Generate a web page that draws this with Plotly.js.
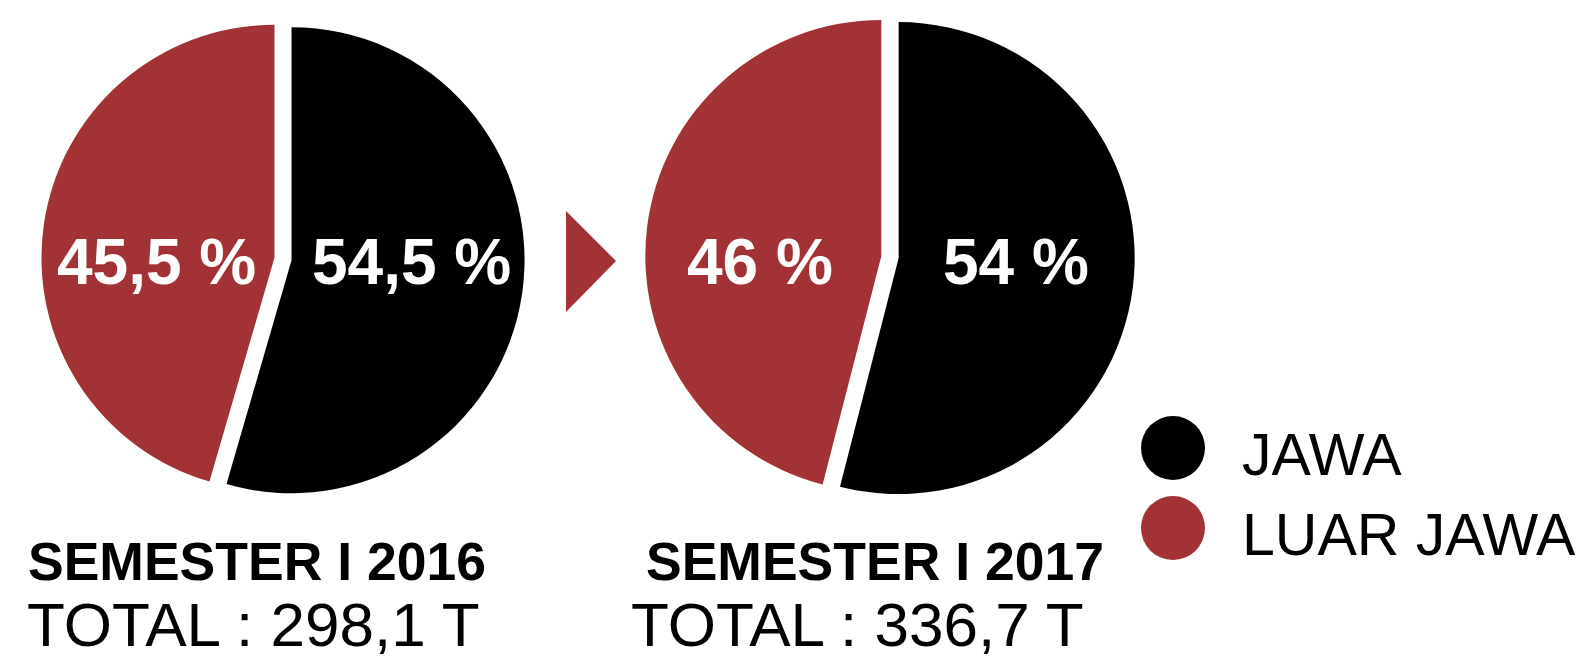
<!DOCTYPE html>
<html>
<head>
<meta charset="utf-8">
<script src="https://cdn.plot.ly/plotly-3.0.1.min.js"></script>
<style>
html,body{margin:0;padding:0;background:#fff;}
#chart{width:1579px;height:660px;}
</style>
</head>
<body>
<div id="chart"></div>
<script>
// ---- data ----
const regions = ['JAWA', 'LUAR JAWA'];
const periods = ['SEMESTER I 2016', 'SEMESTER I 2017'];
const totals = ['298,1', '336,7'];
const jawa = [54.5, 54];
const luarJawa = [45.5, 46];

// ---- styling ----
const W = 1579, H = 660;
const FONT = 'Liberation Sans, Arial, Helvetica, sans-serif';
const colors = ['#000000', '#A33237'];
const pull = 0.037;
const pies = [
  {cx: 283, cy: 259, r: 233, labelDx: [128, -127], titleX: 26, totalX: 26},
  {cx: 890, cy: 257, r: 236, labelDx: [126, -130], titleX: 644, totalX: 630}
];
const px = x => x / W;
const py = y => 1 - y / H;
const fmt = v => String(v).replace('.', ',') + ' %';

const traces = [];
const annotations = [];
pies.forEach((p, i) => {
  const half = p.r * (1 + pull);
  traces.push({
    type: 'pie',
    labels: regions,
    values: [jawa[i], luarJawa[i]],
    sort: false,
    direction: 'clockwise',
    rotation: 0,
    pull: [pull, pull],
    marker: {colors: colors, line: {width: 0}},
    textinfo: 'none',
    hoverinfo: 'none',
    showlegend: false,
    domain: {x: [px(p.cx - half), px(p.cx + half)], y: [py(p.cy + half), py(p.cy - half)]}
  });
  const vals = [jawa[i], luarJawa[i]];
  vals.forEach((v, k) => {
    annotations.push({
      xref: 'paper', yref: 'paper', x: px(p.cx + p.labelDx[k]), y: py(262),
      xanchor: 'center', yanchor: 'middle', showarrow: false,
      text: '<b>' + fmt(v) + '</b>',
      font: {family: FONT, size: 64, color: '#ffffff'}
    });
  });
  annotations.push({
    xref: 'paper', yref: 'paper', x: px(p.titleX), y: py(561),
    xanchor: 'left', yanchor: 'middle', showarrow: false,
    text: '<b>' + periods[i] + '</b>',
    font: {family: FONT, size: 53.5, color: '#000000'}
  });
  annotations.push({
    xref: 'paper', yref: 'paper', x: px(p.totalX), y: 0,
    xanchor: 'left', yanchor: 'bottom', showarrow: false, borderpad: 0,
    text: 'TOTAL : ' + totals[i] + ' T',
    font: {family: FONT, size: 62, color: '#000000'}
  });
});

// legend (manual, large circles)
const shapes = [];
const legY = [448, 528];
regions.forEach((name, k) => {
  shapes.push({
    type: 'circle', xref: 'paper', yref: 'paper',
    x0: px(1141), x1: px(1205), y0: py(legY[k] + 32), y1: py(legY[k] - 32),
    fillcolor: colors[k], line: {width: 0}
  });
  annotations.push({
    xref: 'paper', yref: 'paper', x: px(1240), y: py(legY[k] + 7),
    xanchor: 'left', yanchor: 'middle', showarrow: false,
    text: name,
    font: {family: FONT, size: 59, color: '#000000'}
  });
});

// arrow triangle between pies
shapes.push({
  type: 'path', xref: 'paper', yref: 'paper',
  path: 'M ' + px(566) + ',' + py(211) + ' L ' + px(566) + ',' + py(312) + ' L ' + px(616) + ',' + py(261) + ' Z',
  fillcolor: colors[1], line: {width: 0}
});

const layout = {
  width: W, height: H,
  margin: {l: 0, r: 0, t: 0, b: 0},
  paper_bgcolor: '#ffffff',
  plot_bgcolor: '#ffffff',
  showlegend: false,
  annotations: annotations,
  shapes: shapes
};

Plotly.newPlot('chart', traces, layout, {displayModeBar: false, staticPlot: true});
</script>
</body>
</html>
